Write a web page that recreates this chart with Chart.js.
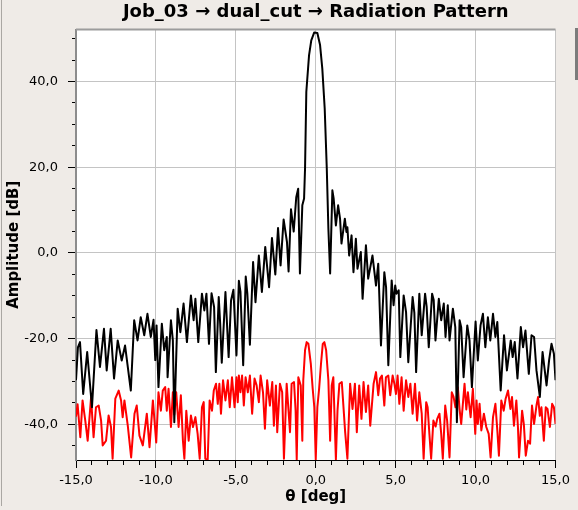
<!DOCTYPE html>
<html>
<head>
<meta charset="utf-8">
<script src="https://cdn.jsdelivr.net/npm/chart.js@4.4.1/dist/chart.umd.min.js"></script>
<style>
  html, body { margin: 0; padding: 0; background: #efebe7; }
  #wrap { position: relative; width: 578px; height: 510px; overflow: hidden; }
  #chart { position: absolute; left: 0; top: 0; }
  #edge { position: absolute; left: 1px; top: 0; width: 1px; height: 506px; background: #aaa7a3; }
  #bar { position: absolute; left: 575px; top: 28px; width: 3px; height: 52px; background: #7c7c7c; }
</style>
</head>
<body>
<div id="wrap">
  <canvas id="chart" width="578" height="510"></canvas>
  <div id="edge"></div>
  <div id="bar"></div>
</div>
<script>
  const chartTitle = "Job_03 \u2192 dual_cut \u2192 Radiation Pattern";
  const xTitle = "\u03b8 [deg]";
  const yTitle = "Amplitude [dB]";

  // black cut: theta [deg] / amplitude [dB], peaks and nulls
  const blackTheta = [
    -15.0, -14.88, -14.75, -14.55, -14.3, -14.0, -13.72, -13.5, -13.25, -13.08,
    -12.83, -12.62, -12.39, -12.14, -11.93, -11.57, -11.36, -11.15, -10.95, -10.73,
    -10.53, -10.32, -10.15, -10.04, -9.96, -9.84, -9.63, -9.48, -9.32, -9.27,
    -9.06, -8.94, -8.85, -8.64, -8.47, -8.27, -8.06, -7.81, -7.64, -7.53,
    -7.35, -7.12, -6.97, -6.84, -6.68, -6.52, -6.36, -6.25, -6.07, -5.98,
    -5.88, -5.65, -5.45, -5.3, -5.15, -4.96, -4.81, -4.71, -4.54, -4.38,
    -4.28, -4.12, -3.92, -3.77, -3.56, -3.37, -3.16, -2.92, -2.74, -2.53,
    -2.36, -2.2, -2.01, -1.8, -1.7, -1.55, -1.38, -1.22, -1.1, -0.99,
    -0.84, -0.73, -0.67, -0.59, -0.42, -0.28, -0.1, 0.1, 0.27, 0.41,
    0.56, 0.69, 0.74, 0.79, 0.9, 1.04, 1.12, 1.26, 1.4, 1.52,
    1.61, 1.82, 1.92, 1.98, 2.09, 2.24, 2.36, 2.51, 2.61, 2.82,
    2.93, 3.14, 3.28, 3.55, 3.77, 3.91, 4.08, 4.29, 4.4, 4.54,
    4.75, 4.87, 4.97, 5.05, 5.19, 5.29, 5.5, 5.65, 5.79, 6.06,
    6.17, 6.28, 6.48, 6.63, 6.84, 6.94, 7.07, 7.28, 7.38, 7.49,
    7.7, 7.85, 8.01, 8.12, 8.26, 8.37, 8.58, 8.73, 8.83, 9.0,
    9.1, 9.25, 9.48, 9.62, 9.77, 10.0, 10.14, 10.31, 10.46, 10.61,
    10.77, 10.92, 11.09, 11.24, 11.36, 11.57, 11.78, 11.96, 12.2, 12.32,
    12.45, 12.62, 12.83, 12.97, 13.12, 13.33, 13.5, 13.66, 13.81, 14.02,
    14.19, 14.44, 14.6, 14.75, 14.9, 15.0
  ];
  const blackDb = [
    -29.7, -22.0, -20.8, -32.9, -23.1, -36.0, -18.0, -26.6, -17.7, -27.4,
    -17.7, -29.3, -20.4, -25.1, -21.6, -32.1, -15.7, -20.4, -15.0, -19.2,
    -14.2, -19.6, -15.6, -25.0, -16.9, -31.3, -16.5, -22.7, -19.6, -29.0,
    -15.7, -20.4, -39.5, -13.0, -18.5, -11.8, -20.8, -9.9, -15.7, -10.7,
    -20.8, -9.5, -13.4, -9.5, -21.2, -9.4, -12.6, -27.8, -10.3, -16.5,
    -25.6, -9.1, -24.3, -11.1, -8.6, -23.9, -6.5, -9.1, -26.2, -5.5,
    -9.5, -21.4, -2.1, -11.5, -0.6, -9.1, 1.4, -8.0, 3.5, -5.0,
    5.8, -2.9, 7.8, 2.5, -4.3, 10.2, 5.0, 13.0, 15.0, -4.8,
    11.1, 12.7, 19.7, 37.6, 46.1, 49.6, 51.4, 51.3, 48.5, 43.0,
    33.7, 19.7, 12.7, 5.7, -4.8, 14.6, 12.7, 6.4, 11.1, 8.0,
    2.2, 8.0, 4.9, 6.0, -0.6, 4.1, -4.5, 3.3, -3.7, 0.2,
    -10.7, 1.8, -6.0, -0.6, -7.6, -2.5, -21.6, -4.5, -8.0, -26.2,
    -6.4, -12.2, -7.6, -9.5, -8.7, -24.3, -9.9, -13.8, -25.5, -10.3,
    -14.0, -27.8, -9.5, -19.2, -9.5, -12.6, -22.0, -9.5, -11.0, -20.4,
    -10.7, -15.7, -11.8, -19.6, -12.2, -20.4, -13.0, -17.3, -39.5, -15.7,
    -17.3, -29.0, -16.9, -20.4, -31.3, -16.0, -25.1, -16.9, -14.2, -22.0,
    -15.0, -20.4, -14.2, -19.6, -16.1, -32.1, -19.2, -27.4, -20.4, -24.3,
    -20.8, -29.3, -17.3, -22.0, -18.1, -28.2, -19.2, -19.6, -27.4, -33.6,
    -23.1, -30.9, -25.0, -21.2, -23.5, -29.7
  ];

  // red cut
  const redTheta = [
    -15.0, -14.9, -14.73, -14.59, -14.42, -14.27, -14.06, -13.9, -13.75, -13.58,
    -13.43, -13.33, -13.12, -12.96, -12.81, -12.71, -12.54, -12.33, -12.18, -12.08,
    -11.97, -11.76, -11.55, -11.34, -11.2, -11.03, -10.82, -10.57, -10.4, -10.19,
    -9.98, -9.84, -9.69, -9.57, -9.42, -9.32, -9.21, -9.06, -8.94, -8.85,
    -8.73, -8.58, -8.44, -8.31, -8.22, -8.1, -7.95, -7.81, -7.68, -7.53,
    -7.39, -7.26, -7.12, -7.01, -6.91, -6.76, -6.64, -6.49, -6.38, -6.24,
    -6.13, -6.03, -5.93, -5.8, -5.65, -5.5, -5.38, -5.24, -5.08, -4.96,
    -4.88, -4.81, -4.71, -4.61, -4.5, -4.39, -4.25, -4.12, -3.98, -3.83,
    -3.7, -3.56, -3.45, -3.3, -3.18, -3.04, -2.87, -2.72, -2.62, -2.49,
    -2.41, -2.24, -2.1, -1.99, -1.82, -1.61, -1.51, -1.36, -1.26, -1.19,
    -1.09, -0.94, -0.84, -0.78, -0.67, -0.57, -0.46, -0.31, -0.19, -0.09,
    0.0, 0.1, 0.21, 0.33, 0.44, 0.54, 0.65, 0.79, 0.9, 1.0,
    1.1, 1.26, 1.36, 1.48, 1.63, 1.84, 1.98, 2.15, 2.3, 2.45,
    2.57, 2.72, 2.86, 2.99, 3.14, 3.28, 3.41, 3.62, 3.77, 3.91,
    4.02, 4.14, 4.29, 4.39, 4.54, 4.66, 4.81, 4.92, 5.02, 5.12,
    5.23, 5.37, 5.5, 5.65, 5.79, 5.92, 6.06, 6.21, 6.34, 6.48,
    6.63, 6.75, 6.91, 7.0, 7.11, 7.22, 7.36, 7.5, 7.6, 7.74,
    7.85, 7.95, 8.1, 8.22, 8.37, 8.51, 8.62, 8.74, 8.89, 9.0,
    9.1, 9.31, 9.42, 9.52, 9.69, 9.83, 9.98, 10.06, 10.14, 10.25,
    10.36, 10.52, 10.67, 10.82, 10.94, 11.09, 11.24, 11.36, 11.46, 11.61,
    11.76, 11.88, 12.03, 12.18, 12.28, 12.4, 12.55, 12.65, 12.72, 12.91,
    13.02, 13.14, 13.28, 13.41, 13.53, 13.66, 13.81, 13.91, 14.02, 14.12,
    14.27, 14.39, 14.5, 14.65, 14.79, 14.9, 15.0
  ];
  const redDb = [
    -38.2, -35.3, -43.0, -34.4, -39.1, -43.8, -33.8, -43.0, -36.0, -35.6,
    -39.1, -44.9, -43.8, -37.9, -40.6, -48.0, -34.0, -32.1, -34.4, -38.3,
    -34.4, -40.3, -47.7, -37.5, -35.6, -42.6, -44.9, -37.5, -45.3, -34.4,
    -44.2, -32.5, -36.8, -32.1, -31.3, -36.8, -31.7, -40.6, -32.5, -37.7,
    -32.5, -40.6, -33.2, -43.8, -48.0, -36.8, -43.8, -37.9, -40.6, -38.3,
    -42.2, -48.0, -36.0, -34.8, -48.0, -48.2, -34.4, -36.8, -32.1, -30.5,
    -35.2, -30.5, -37.5, -29.7, -34.4, -29.7, -36.0, -29.0, -36.0, -29.0,
    -34.8, -28.6, -32.5, -28.6, -35.6, -29.0, -32.5, -28.6, -37.5, -29.3,
    -30.9, -34.8, -28.6, -32.5, -41.0, -29.7, -35.6, -30.1, -40.3, -30.9,
    -41.8, -30.5, -32.5, -48.0, -30.5, -41.8, -30.5, -30.1, -36.8, -48.2,
    -29.0, -30.9, -43.8, -29.7, -22.7, -20.8, -21.2, -25.8, -31.7, -36.0,
    -48.2, -36.0, -31.7, -25.8, -21.2, -20.8, -22.7, -29.7, -43.8, -30.9,
    -29.0, -48.2, -36.8, -30.5, -30.1, -41.8, -48.0, -30.5, -36.4, -30.5,
    -41.8, -30.9, -38.7, -30.1, -37.1, -30.9, -40.3, -30.5, -27.8, -33.2,
    -29.3, -28.6, -35.6, -29.0, -28.6, -33.2, -28.6, -30.5, -32.9, -28.6,
    -35.2, -29.0, -36.8, -29.7, -33.6, -30.5, -37.5, -30.5, -39.1, -32.5,
    -37.5, -48.0, -34.8, -36.0, -42.2, -48.0, -39.1, -40.5, -38.7, -37.5,
    -42.2, -48.0, -35.6, -39.1, -47.7, -32.5, -33.5, -36.0, -31.3, -36.5,
    -39.9, -30.5, -36.5, -32.5, -38.3, -31.7, -42.2, -34.4, -39.9, -35.2,
    -41.4, -37.5, -40.6, -42.2, -47.7, -38.3, -35.2, -41.4, -47.3, -34.4,
    -36.8, -34.0, -32.1, -36.4, -33.6, -40.3, -34.4, -40.6, -47.7, -36.8,
    -40.0, -47.3, -43.8, -44.5, -35.6, -39.9, -35.6, -33.6, -38.0, -36.0,
    -43.8, -36.0, -36.4, -40.6, -35.2, -36.0, -39.9
  ];

  const xMin = -15, xMax = 15;
  const yMin = -48.3, yMax = 52.1;

  const fmt = v => v.toFixed(1).replace(".", ",");
  const toPoints = (xs, ys) => xs.map((x, i) => ({ x: x, y: ys[i] }));
  const isMajor = (v, step) => Math.abs(v / step - Math.round(v / step)) < 1e-6;

  // white canvas for the plot and the grey frame line on top
  const plotFrame = {
    id: "plotFrame",
    beforeDraw(chart) {
      const { ctx, chartArea: a } = chart;
      ctx.save();
      ctx.fillStyle = "#ffffff";
      ctx.fillRect(a.left, a.top, a.right - a.left, a.bottom - a.top);
      ctx.restore();
    },
    beforeDatasetsDraw(chart) {
      const { ctx, chartArea: a } = chart;
      ctx.save();
      ctx.strokeStyle = "#9c9c9c";
      ctx.lineWidth = 2;
      ctx.beginPath();
      ctx.moveTo(a.left, a.top);
      ctx.lineTo(a.right, a.top);
      ctx.stroke();
      ctx.restore();
    }
  };

  const tickFont = { family: "DejaVu Sans", size: 13 };
  const titleFont = { family: "DejaVu Sans", size: 15, weight: "bold" };

  new Chart(document.getElementById("chart").getContext("2d"), {
    type: "line",
    data: {
      datasets: [
        {
          label: "cut 1",
          data: toPoints(blackTheta, blackDb),
          borderColor: "#000000",
          borderWidth: 2,
          pointRadius: 0,
          borderJoinStyle: "round",
          tension: 0
        },
        {
          label: "cut 2",
          data: toPoints(redTheta, redDb),
          borderColor: "#ff0000",
          borderWidth: 2,
          pointRadius: 0,
          borderJoinStyle: "round",
          tension: 0
        }
      ]
    },
    options: {
      responsive: false,
      animation: false,
      devicePixelRatio: 1,
      parsing: false,
      layout: { padding: { top: 0, right: 22.5, bottom: 0, left: 0 } },
      plugins: {
        legend: { display: false },
        tooltip: { enabled: false },
        title: {
          display: true,
          text: chartTitle,
          fullSize: false,
          color: "#000",
          font: { family: "DejaVu Sans", size: 18, weight: "bold" },
          padding: { top: 2, bottom: 6 }
        }
      },
      scales: {
        x: {
          type: "linear",
          min: xMin,
          max: xMax,
          afterFit: s => { s.height = 50; },
          ticks: {
            stepSize: 1,
            autoSkip: false,
            maxRotation: 0,
            padding: 5,
            color: "#000",
            font: tickFont,
            callback: v => isMajor(v, 5) ? fmt(v) : ""
          },
          grid: {
            color: c => (c.tick && isMajor(c.tick.value, 5)) ? "#c4c4c4" : "rgba(0,0,0,0)",
            tickColor: "#000",
            tickLength: 8,
            tickBorderDash: c => (c.tick && isMajor(c.tick.value, 5)) ? [] : [4, 8],
            tickBorderDashOffset: 0
          },
          border: { color: "#000", width: 1 },
          title: { display: true, text: xTitle, color: "#000", font: titleFont, padding: { top: 0, bottom: 4 } }
        },
        y: {
          type: "linear",
          min: yMin,
          max: yMax,
          afterFit: s => { s.width = 76; },
          ticks: {
            stepSize: 5,
            includeBounds: false,
            padding: 10,
            color: "#000",
            font: tickFont,
            callback: v => isMajor(v, 20) ? fmt(v) : ""
          },
          grid: {
            color: c => (c.tick && isMajor(c.tick.value, 20)) ? "#c4c4c4" : "rgba(0,0,0,0)",
            tickColor: "#000",
            tickLength: 8,
            tickBorderDash: c => (c.tick && isMajor(c.tick.value, 20)) ? [] : [4, 4],
            tickBorderDashOffset: c => (c.tick && isMajor(c.tick.value, 20)) ? 0 : 4
          },
          border: { color: "#8c8c8c", width: 2 },
          title: { display: true, text: yTitle, color: "#000", font: titleFont, padding: { top: 5, bottom: 0 } }
        }
      }
    },
    plugins: [plotFrame]
  });
</script>
</body>
</html>
